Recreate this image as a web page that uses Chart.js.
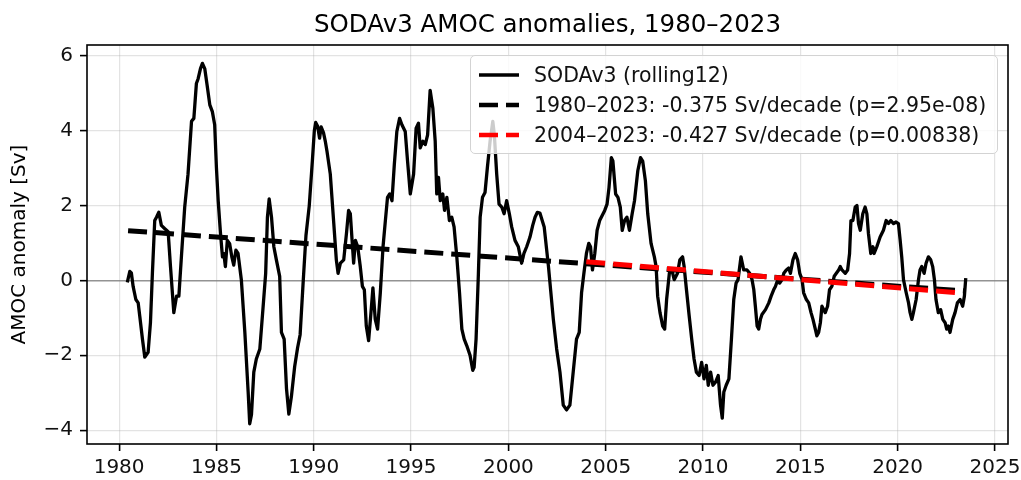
<!DOCTYPE html>
<html>
<head>
<meta charset="utf-8">
<script src="https://cdn.jsdelivr.net/npm/chart.js@4.4.1/dist/chart.umd.min.js"></script>
<style>
  html, body { margin:0; padding:0; background:#fff; overflow:hidden; }
  #wrap { position:relative; width:1021px; height:480px; }
  #title { position:absolute; left:87px; width:921px; top:12px; text-align:center;
    font-family:'DejaVu Sans', sans-serif; font-size:24.5px; line-height:24.5px; color:#000; white-space:nowrap; }
  #legend { position:absolute; left:470px; top:55px; width:528px; height:99px; box-sizing:border-box;
    border:1px solid #d3d3d3; border-radius:5px; background:rgba(255,255,255,0.8);
    font-family:'DejaVu Sans', sans-serif; font-size:20.5px; color:#111; }
  .row { position:absolute; left:0; width:100%; height:30px; line-height:30px; white-space:nowrap; }
  .row svg { position:absolute; left:6px; }
  .row span { position:absolute; left:63px; top:0; }
</style>
</head>
<body>
<div id="wrap">
  <canvas id="c" width="1021" height="480"></canvas>
  <div id="title"></div>
  <div id="legend"></div>
</div>
<script>
// ---- data ----
const titleText = 'SODAv3 AMOC anomalies, 1980–2023';
const yAxisLabel = 'AMOC anomaly [Sv]';
const seriesLabel = 'SODAv3 (rolling12)';
const trendAllLabel = '1980–2023: -0.375 Sv/decade (p=2.95e-08)';
const trendRecentLabel = '2004–2023: -0.427 Sv/decade (p=0.00838)';

const years = [
1980.42,1980.55,1980.63,1980.72,1980.86,1980.98,1981.06,1981.2,1981.32,1981.49,1981.61,1981.71,1981.83,1981.92,
1982.04,1982.17,1982.35,1982.52,1982.64,1982.81,1982.95,1983.07,1983.2,1983.37,1983.54,1983.72,1983.84,1983.97,
1984.06,1984.18,1984.28,1984.4,1984.52,1984.66,1984.79,1984.91,1985.0,1985.09,1985.21,1985.31,1985.38,1985.46,
1985.56,1985.68,1985.79,1985.89,1986.0,1986.11,1986.28,1986.46,1986.63,1986.71,1986.8,1986.92,1987.05,1987.23,
1987.4,1987.53,1987.62,1987.71,1987.83,1987.95,1988.08,1988.25,1988.34,1988.48,1988.6,1988.72,1988.85,1989.02,
1989.17,1989.3,1989.45,1989.6,1989.77,1989.93,1990.03,1990.1,1990.2,1990.3,1990.38,1990.5,1990.6,
1990.68,1990.85,1991.03,1991.16,1991.25,1991.37,1991.54,1991.68,1991.79,1991.88,1991.97,1992.05,1992.14,1992.26,
1992.39,1992.5,1992.6,1992.7,1992.82,1992.94,1993.04,1993.16,1993.28,1993.42,1993.56,1993.68,1993.79,1993.9,
1994.02,1994.14,1994.27,1994.41,1994.53,1994.7,1994.82,1994.96,1995.13,1995.26,1995.38,1995.47,1995.61,1995.73,
1995.85,1995.98,1996.12,1996.24,1996.32,1996.41,1996.5,1996.63,1996.72,1996.84,1996.97,1997.09,1997.21,1997.35,
1997.49,1997.61,1997.73,1997.86,1998.03,1998.17,1998.24,1998.34,1998.46,1998.55,1998.67,1998.8,1998.92,1999.06,
1999.2,1999.28,1999.4,1999.52,1999.66,1999.78,1999.91,2000.05,2000.17,2000.34,2000.51,2000.68,2000.8,2000.94,
2001.11,2001.25,2001.37,2001.49,2001.62,2001.84,2002.06,2002.31,2002.48,2002.65,2002.82,2002.99,2003.16,2003.33,
2003.5,2003.64,2003.76,2003.88,2004.01,2004.13,2004.22,2004.32,2004.44,2004.56,2004.69,2004.95,2005.07,2005.17,
2005.29,2005.37,2005.51,2005.63,2005.75,2005.85,2005.97,2006.09,2006.22,2006.36,2006.48,2006.65,2006.79,2006.9,
2007.04,2007.16,2007.33,2007.5,2007.59,2007.67,2007.79,2007.93,2008.03,2008.13,2008.27,2008.4,2008.52,2008.69,
2008.81,2008.95,2009.03,2009.15,2009.29,2009.42,2009.54,2009.66,2009.8,2009.93,2010.05,2010.17,2010.27,2010.39,
2010.51,2010.65,2010.78,2010.9,2010.99,2011.07,2011.19,2011.33,2011.46,2011.58,2011.7,2011.8,2011.95,2012.09,
2012.26,2012.4,2012.52,2012.61,2012.69,2012.78,2012.86,2012.95,2013.03,2013.21,2013.38,2013.5,2013.63,2013.72,
2013.84,2013.94,2014.06,2014.15,2014.28,2014.4,2014.49,2014.62,2014.74,2014.86,2014.97,2015.09,2015.17,2015.31,
2015.43,2015.55,2015.65,2015.77,2015.85,2015.94,2016.03,2016.11,2016.28,2016.4,2016.5,2016.62,2016.74,2016.85,
2016.97,2017.05,2017.14,2017.31,2017.43,2017.53,2017.6,2017.7,2017.82,2017.91,2017.99,2018.08,2018.21,2018.33,
2018.42,2018.5,2018.62,2018.73,2018.79,2018.93,2019.1,2019.27,2019.41,2019.53,2019.65,2019.79,2019.92,2020.04,
2020.13,2020.21,2020.3,2020.44,2020.56,2020.64,2020.73,2020.81,2020.95,2021.07,2021.15,2021.24,2021.36,2021.46,
2021.58,2021.7,2021.8,2021.89,2021.97,2022.09,2022.21,2022.32,2022.44,2022.52,2022.61,2022.69,2022.83,2022.95,
2023.07,2023.21,2023.34,2023.43,2023.5
];
const amoc = [
-0.05,0.24,0.2,-0.16,-0.51,-0.6,-0.95,-1.57,-2.05,-1.92,-1.13,0.19,1.6,1.69,
1.82,1.47,1.38,1.3,0.37,-0.86,-0.42,-0.42,0.63,1.96,2.84,4.25,4.33,5.26,
5.39,5.66,5.8,5.66,5.22,4.69,4.51,4.16,3.01,2.13,1.25,0.63,0.72,0.37,
1.07,0.98,0.63,0.41,0.81,0.72,0.02,-1.39,-2.98,-3.83,-3.59,-2.45,-2.1,-1.83,
-0.69,0.19,1.69,2.18,1.69,0.9,0.55,0.11,-1.39,-1.57,-2.89,-3.57,-3.11,-2.3,
-1.8,-1.45,-0.1,1.2,2.0,3.2,4.0,4.22,4.12,3.8,4.1,3.95,3.7,
3.45,2.84,1.52,0.55,0.19,0.46,0.55,1.25,1.87,1.78,1.07,0.46,1.07,0.9,
0.37,-0.16,-0.25,-1.22,-1.61,-0.86,-0.2,-1.04,-1.3,-0.33,0.9,1.6,2.22,2.31,
2.13,3.1,3.98,4.33,4.16,3.98,3.19,2.31,2.84,4.07,4.2,3.54,3.72,3.63,
3.89,5.08,4.6,3.72,2.31,2.75,2.13,2.31,1.87,2.22,1.6,1.69,1.43,0.63,
-0.33,-1.3,-1.57,-1.74,-2.0,-2.4,-2.32,-1.57,0.19,1.69,2.22,2.35,3.01,3.72,
4.25,3.89,2.84,2.04,1.96,1.78,2.13,1.78,1.43,1.07,0.9,0.46,0.72,0.9,
1.16,1.47,1.69,1.82,1.8,1.43,0.37,-1.04,-1.83,-2.45,-3.33,-3.46,-3.33,-2.45,
-1.57,-1.39,-0.33,0.19,0.72,0.99,0.9,0.28,0.72,1.34,1.6,1.87,2.04,2.48,
3.28,3.19,2.31,2.22,1.96,1.34,1.6,1.69,1.34,1.78,2.13,2.93,3.28,3.19,
2.66,1.78,0.99,0.63,0.37,-0.42,-0.86,-1.22,-1.3,-0.51,0.19,0.28,0.02,0.19,
0.55,0.63,0.37,-0.25,-0.95,-1.57,-2.1,-2.45,-2.54,-2.19,-2.63,-2.27,-2.8,-2.45,
-2.8,-2.71,-2.54,-3.33,-3.68,-2.98,-2.8,-2.63,-1.57,-0.51,-0.07,0.02,0.63,0.28,
0.28,0.19,0.02,-0.25,-0.69,-1.22,-1.3,-1.04,-0.91,-0.78,-0.6,-0.42,-0.25,-0.16,
0.02,-0.07,0.02,0.19,0.28,0.33,0.19,0.55,0.72,0.55,0.19,0.02,-0.33,-0.51,
-0.6,-0.86,-1.04,-1.3,-1.48,-1.39,-1.13,-0.69,-0.86,-0.69,-0.25,-0.16,0.11,0.19,
0.28,0.37,0.28,0.19,0.28,0.72,1.6,1.6,1.96,2.0,1.52,1.34,1.78,1.96,
1.78,1.25,0.72,0.9,0.72,0.9,1.16,1.34,1.6,1.52,1.6,1.52,1.56,1.52,
1.07,0.63,0.02,-0.33,-0.6,-0.86,-1.04,-0.86,-0.51,0.02,0.28,0.37,0.19,0.46,
0.63,0.55,0.37,0.02,-0.51,-0.86,-0.78,-1.04,-1.13,-1.3,-1.22,-1.39,-1.04,-0.86,
-0.6,-0.51,-0.69,-0.42,0.06
];
const trendAllYears = [1980.46, 2023.4];
const trendAllVals = [1.33, -0.28];
const trendRecentYears = [2004.0, 2023.3];
const trendRecentVals = [0.5, -0.34];

const xTicks = [1980,1985,1990,1995,2000,2005,2010,2015,2020,2025];
const xTickLabels = ['1980','1985','1990','1995','2000','2005','2010','2015','2020','2025'];
const yTicks = [-4,-2,0,2,4,6];
const yTickLabels = ['\u22124','\u22122','0','2','4','6'];
const xMin = 1978.35, xMax = 2025.67;
const yMin = -4.37, yMax = 6.29;

// ---- chart ----
const zip = (xs, ys) => xs.map((x, i) => ({x: x, y: ys[i]}));
Chart.defaults.font.family = "'DejaVu Sans', sans-serif";
Chart.defaults.color = '#111';

const frame = {
  id: 'frame',
  afterDatasetsDraw(chart) {
    const {ctx, chartArea: a} = chart;
    ctx.save();
    ctx.strokeStyle = '#000';
    ctx.lineWidth = 1.6;
    ctx.strokeRect(a.left, a.top, a.right - a.left, a.bottom - a.top);
    ctx.restore();
  }
};

const gridCol = 'rgba(176,176,176,0.35)';
const chart = new Chart(document.getElementById('c'), {
  type: 'line',
  data: {
    datasets: [
      { label: trendRecentLabel, data: zip(trendRecentYears, trendRecentVals), borderColor: '#ff0000',
        borderWidth: 5, borderDash: [19, 8], pointRadius: 0, fill: false, order: 0, tension: 0 },
      { label: trendAllLabel, data: zip(trendAllYears, trendAllVals), borderColor: '#000000',
        borderWidth: 5, borderDash: [19, 8], pointRadius: 0, fill: false, order: 1, tension: 0 },
      { label: seriesLabel, data: zip(years, amoc), borderColor: '#000000', borderWidth: 3.3,
        pointRadius: 0, fill: false, order: 2, tension: 0, borderJoinStyle: 'round' }
    ]
  },
  options: {
    responsive: false,
    animation: false,
    devicePixelRatio: 1,
    events: [],
    layout: { padding: { left: 0, right: 13, top: 45, bottom: 0 } },
    plugins: {
      legend: { display: false },
      tooltip: { enabled: false },
      title: { display: false }
    },
    scales: {
      x: {
        type: 'linear', min: xMin, max: xMax,
        afterBuildTicks: (a) => { a.ticks = xTicks.map(v => ({ value: v })); },
        afterFit: (a) => { a.height = 36; a.paddingLeft = 0; a.paddingRight = 0; },
        border: { display: false },
        grid: { color: gridCol, lineWidth: 1.2, tickColor: '#000', tickWidth: 1.6, tickLength: 7 },
        ticks: { font: { size: 20 }, color: '#111', padding: 5, maxRotation: 0, autoSkip: false,
          callback: (v) => xTickLabels[xTicks.indexOf(v)] }
      },
      y: {
        type: 'linear', min: yMin, max: yMax,
        afterBuildTicks: (a) => { a.ticks = yTicks.map(v => ({ value: v })); },
        afterFit: (a) => { a.width = 87; a.paddingTop = 0; a.paddingBottom = 0; },
        border: { display: false },
        grid: {
          color: (c) => (c.tick && c.tick.value === 0) ? 'rgba(128,128,128,0.85)' : gridCol,
          lineWidth: (c) => (c.tick && c.tick.value === 0) ? 1.4 : 1.2,
          tickColor: '#000', tickWidth: 1.6, tickLength: 7
        },
        ticks: { font: { size: 20 }, color: '#111', padding: 7, autoSkip: false,
          callback: (v) => yTickLabels[yTicks.indexOf(v)] },
        title: { display: true, text: yAxisLabel, color: '#000', font: { size: 20 },
          padding: { top: 8, bottom: 0 } }
      }
    }
  },
  plugins: [frame]
});

// ---- HTML title and legend built from the data/datasets ----
document.getElementById('title').textContent = titleText;
const legendEl = document.getElementById('legend');
const legendOrder = [2, 1, 0];
const rowTops = [4, 34, 64];
legendOrder.forEach((di, r) => {
  const ds = chart.data.datasets[di];
  const row = document.createElement('div');
  row.className = 'row';
  row.style.top = rowTops[r] + 'px';
  const dash = ds.borderDash ? `stroke-dasharray="${ds.borderDash.join(' ')}"` : '';
  row.innerHTML = `<svg width="46" height="10" style="top:10px"><line x1="2" y1="5" x2="42" y2="5" stroke="${ds.borderColor}" stroke-width="${ds.borderDash ? 4.5 : 3.3}" ${dash}/></svg><span></span>`;
  row.querySelector('span').textContent = ds.label;
  legendEl.appendChild(row);
});
</script>
</body>
</html>
